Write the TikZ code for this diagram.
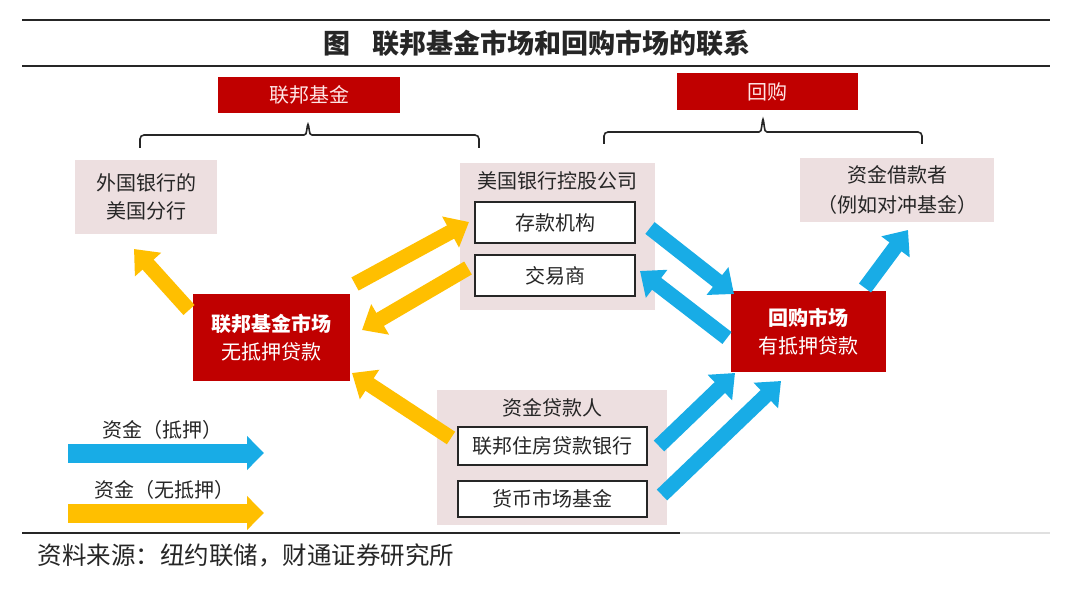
\documentclass[tikz,border=0pt]{standalone}
\usepackage{fontspec}
\setmainfont{Noto Sans CJK SC}
\usetikzlibrary{arrows.meta}
\definecolor{repred}{HTML}{C00000}
\definecolor{grppink}{HTML}{EDDFE0}
\definecolor{cashblue}{HTML}{18ACE6}
\definecolor{cashyellow}{HTML}{FFBF00}
\definecolor{inkgray}{HTML}{262626}
\tikzstyle{group}=[fill=grppink,inner sep=0pt,align=center,text=inkgray]
\tikzstyle{inst}=[draw=inkgray,line width=1.6pt,fill=white,inner sep=0pt,text=inkgray]
\tikzstyle{market}=[fill=repred,text=white,inner sep=0pt,align=center]
\tikzstyle{tag}=[fill=repred,text=white!90!red,inner sep=0pt]
\tikzstyle{secured}=[draw=cashblue,line width=15pt,-{Triangle[width=34pt,length=21pt]}]
\tikzstyle{unsecured}=[draw=cashyellow,line width=15pt,-{Triangle[width=34pt,length=21pt]}]
\tikzstyle{keyarrow}=[line width=19pt,-{Triangle[width=33pt,length=17pt]}]
\tikzstyle{rule}=[draw=inkgray,line width=1.8pt]
\tikzstyle{brace}=[draw=inkgray,line width=1.6pt,rounded corners=4pt]
\tikzset{every picture/.style={
    x=1pt,y=-1pt
  },
  every node/.style={font=\fontsize{20}{28}\selectfont}
}

\begin{document}
\begin{tikzpicture}
      \useasboundingbox[fill=white] (0,0) rectangle (1080,596);
      % title and rules
      \draw[rule] (22,20) -- (1050,20);
      \draw[rule] (22,66) -- (1050,66);
      \node[font=\fontsize{27}{32}\selectfont\bfseries,text=inkgray] at (537,43) (title) {图\hspace{0.8em}联邦基金市场和回购市场的联系};
      % markets tags
      \node[tag,minimum width=182pt,minimum height=36pt] at (309,95) (fedtag) {联邦基金};
      \node[tag,minimum width=181pt,minimum height=37pt] at (767.5,91.5) (repotag) {回购};
      \draw[brace] (140,148) -- (140,135) -- (300,135) .. controls (306,135) .. (308,122) .. controls (310,135) .. (316,135) -- (479,135) -- (479,148);
      \draw[brace] (604,144) -- (604,132) -- (755,132) .. controls (761,132) .. (763,117) .. controls (765,132) .. (771,132) -- (922,132) -- (922,144);
      % groups
      \node[group,minimum width=142pt,minimum height=74pt] at (146,197) (forbr) {外国银行的\\美国分行};
      \node[group,minimum width=195pt,minimum height=147pt] at (557.5,236.5) (bhc) {};
      \node[text=inkgray] at (557,181) (bhctitle) {美国银行控股公司};
      \node[inst,minimum width=160pt,minimum height=41pt] at (555,222.5) (depos) {存款机构};
      \node[inst,minimum width=160pt,minimum height=41pt] at (555,275.5) (dealer) {交易商};
      \node[group,minimum width=194pt,minimum height=64pt,font=\fontsize{20}{30}\selectfont] at (897,190) (borrow) {资金借款者\\（例如对冲基金）};
      \node[market,minimum width=157pt,minimum height=87pt] at (271.5,337.5) (fedmkt) {\textbf{联邦基金市场}\\无抵押贷款};
      \node[market,minimum width=155pt,minimum height=81pt] at (808.5,331.5) (repomkt) {\textbf{回购市场}\\有抵押贷款};
      \node[group,minimum width=230pt,minimum height=135pt] at (552,457.5) (lender) {};
      \node[text=inkgray] at (552,408) (lendtitle) {资金贷款人};
      \node[inst,minimum width=189pt,minimum height=38pt] at (552.5,446) (fhlb) {联邦住房贷款银行};
      \node[inst,minimum width=189pt,minimum height=36pt] at (552.5,499) (mmf) {货币市场基金};
      % flows
      \coordinate (f1) at (189,310); \coordinate (t1) at (134,249);
      \coordinate (f2) at (355,284); \coordinate (t2) at (469,222);
      \coordinate (f3) at (468,268); \coordinate (t3) at (362,330);
      \coordinate (f4) at (451,438); \coordinate (t4) at (352,373);
      \coordinate (f5) at (650,228); \coordinate (t5) at (734,294);
      \coordinate (f6) at (727,338); \coordinate (t6) at (640,271);
      \coordinate (f7) at (865,288); \coordinate (t7) at (908,230);
      \coordinate (f8) at (659,446); \coordinate (t8) at (735,373);
      \coordinate (f9) at (662,495); \coordinate (t9) at (781,381);
      \draw[unsecured] (f1) -- (t1);
      \draw[unsecured] (f2) -- (t2);
      \draw[unsecured] (f3) -- (t3);
      \draw[unsecured] (f4) -- (t4);
      \draw[secured] (f5) -- (t5);
      \draw[secured] (f6) -- (t6);
      \draw[secured] (f7) -- (t7);
      \draw[secured] (f8) -- (t8);
      \draw[secured] (f9) -- (t9);
      % legend
      \node[text=inkgray] at (162,430) (keysec) {资金（抵押）};
      \node[text=inkgray] at (164,490) (keyuns) {资金（无抵押）};
      \coordinate (secfrom) at (68,453); \coordinate (secto) at (264,453);
      \coordinate (unsfrom) at (68,513); \coordinate (unsto) at (264,513);
      \draw[keyarrow,draw=cashblue] (secfrom) -- (secto);
      \draw[keyarrow,draw=cashyellow] (unsfrom) -- (unsto);
      % source
      \draw[rule] (22,533) -- (680,533);
      \draw[draw=black!12,line width=1.8pt] (680,533) -- (1050,533);
      \node[anchor=west,font=\fontsize{24.5}{28}\selectfont,text=inkgray] at (34,555) (source) {资料来源：纽约联储，财通证券研究所};
    \end{tikzpicture}
\end{document}
